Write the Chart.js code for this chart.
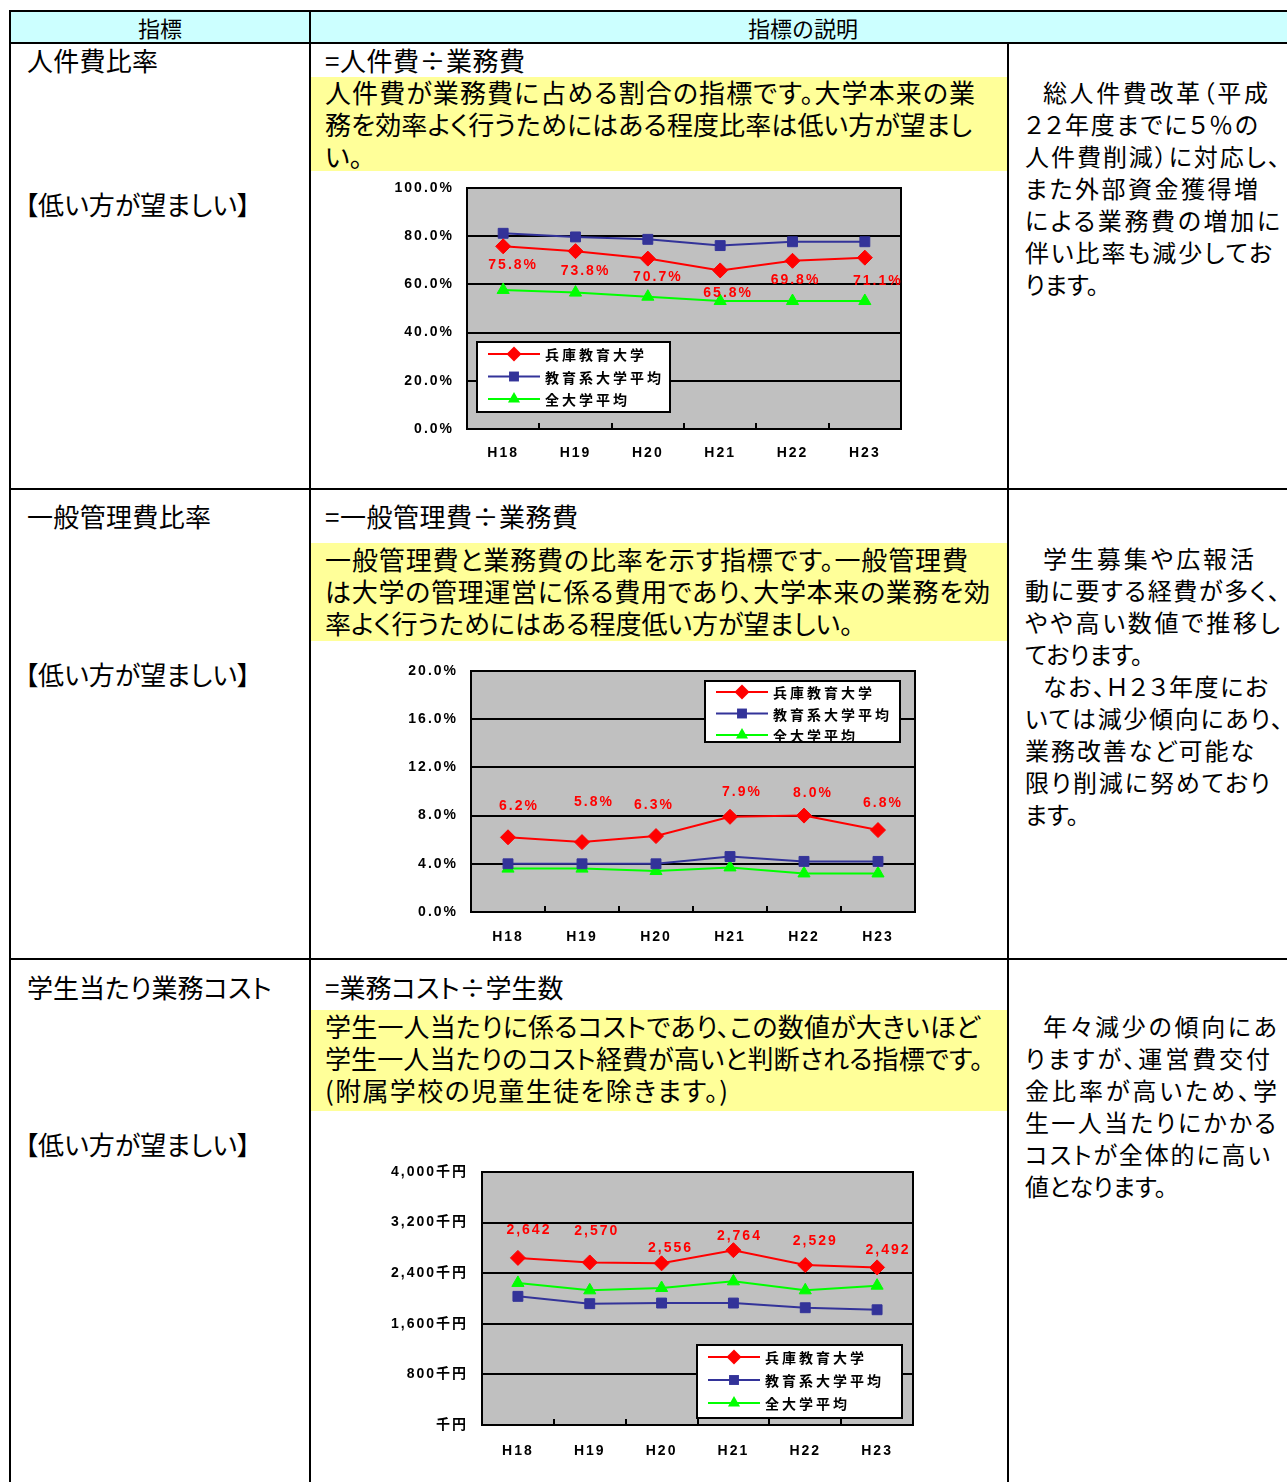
<!DOCTYPE html>
<html lang="ja">
<head>
<meta charset="utf-8">
<title>指標の説明</title>
<script src="https://cdn.jsdelivr.net/npm/chart.js@4.4.1/dist/chart.umd.min.js"></script>
<style>
html,body{margin:0;padding:0;background:#fff;}
body{position:relative;width:1287px;height:1482px;overflow:hidden;font-family:"Noto Sans CJK JP","Noto Sans",sans-serif;color:#000;}
.b{position:absolute;background:#000;}
.t{position:absolute;font-size:26px;line-height:32px;font-feature-settings:"palt";}
.r{font-size:24px;}
.ln{display:block;height:32px;white-space:nowrap;}
.j{text-align:justify;text-align-last:justify;}
.ind{padding-left:18px;}
.yb{position:absolute;left:311px;width:696px;background:#ffff99;}
.hd{position:absolute;top:12px;height:30px;line-height:30px;font-size:22px;text-align:center;}
.cw{position:absolute;}
.cw canvas{display:block;}
</style>
</head>
<body>
<!-- header -->
<div style="position:absolute;left:11px;top:12px;width:1276px;height:30px;background:#ccffff"></div>
<div class="hd" style="left:11px;width:298px">指標</div>
<div class="hd" style="left:311px;width:984px">指標の説明</div>

<!-- grid lines -->
<div class="b" style="left:9px;top:10px;width:1278px;height:2px"></div>
<div class="b" style="left:9px;top:42px;width:1278px;height:2px"></div>
<div class="b" style="left:9px;top:10px;width:2px;height:1472px"></div>
<div class="b" style="left:309px;top:10px;width:2px;height:1472px"></div>
<div class="b" style="left:1007px;top:43px;width:2px;height:1439px"></div>
<div class="b" style="left:9px;top:488px;width:1278px;height:2px"></div>
<div class="b" style="left:9px;top:958px;width:1278px;height:2px"></div>

<!-- row 1 -->
<div class="t" style="left:27px;top:44px"><div class="ln j" style="width:131px">人件費比率</div></div>
<div class="t" style="left:25px;top:188px"><div class="ln j" style="width:225px">【低い方が望ましい】</div></div>
<div class="t" style="left:325px;top:44px"><div class="ln j" style="width:200px">=人件費÷業務費</div></div>
<div class="yb" style="top:77px;height:94px"></div>
<div class="t" style="left:325px;top:76px">
<div class="ln j" style="width:650px">人件費が業務費に占める割合の指標です。大学本来の業</div>
<div class="ln j" style="width:647px">務を効率よく行うためにはある程度比率は低い方が望まし</div>
<div class="ln">い。</div>
</div>
<div class="t r" style="left:1025px;top:76px">
<div class="ln j ind" style="width:225px">総人件費改革（平成</div>
<div class="ln j" style="width:233px">２２年度までに５％の</div>
<div class="ln j" style="width:255px">人件費削減）に対応し、</div>
<div class="ln j" style="width:233px">また外部資金獲得増</div>
<div class="ln j" style="width:255px">による業務費の増加に</div>
<div class="ln j" style="width:247px">伴い比率も減少してお</div>
<div class="ln">ります。</div>
</div>

<!-- row 2 -->
<div class="t" style="left:27px;top:500px"><div class="ln j" style="width:184px">一般管理費比率</div></div>
<div class="t" style="left:25px;top:658px"><div class="ln j" style="width:225px">【低い方が望ましい】</div></div>
<div class="t" style="left:325px;top:500px"><div class="ln j" style="width:253px">=一般管理費÷業務費</div></div>
<div class="yb" style="top:543px;height:98px"></div>
<div class="t" style="left:325px;top:543px">
<div class="ln j" style="width:643px">一般管理費と業務費の比率を示す指標です。一般管理費</div>
<div class="ln j" style="width:665px">は大学の管理運営に係る費用であり、大学本来の業務を効</div>
<div class="ln j" style="width:527px">率よく行うためにはある程度低い方が望ましい。</div>
</div>
<div class="t r" style="left:1025px;top:542px">
<div class="ln j ind" style="width:211px">学生募集や広報活</div>
<div class="ln j" style="width:255px">動に要する経費が多く、</div>
<div class="ln j" style="width:255px">やや高い数値で推移し</div>
<div class="ln">ております。</div>
<div class="ln j ind" style="width:225px">なお、Ｈ２３年度にお</div>
<div class="ln j" style="width:258px">いては減少傾向にあり、</div>
<div class="ln j" style="width:229px">業務改善など可能な</div>
<div class="ln j" style="width:245px">限り削減に努めており</div>
<div class="ln">ます。</div>
</div>

<!-- row 3 -->
<div class="t" style="left:27px;top:971px"><div class="ln j" style="width:238px">学生当たり業務コスト</div></div>
<div class="t" style="left:25px;top:1128px"><div class="ln j" style="width:225px">【低い方が望ましい】</div></div>
<div class="t" style="left:325px;top:971px"><div class="ln j" style="width:235px">=業務コスト÷学生数</div></div>
<div class="yb" style="top:1010px;height:101px"></div>
<div class="t" style="left:325px;top:1010px">
<div class="ln j" style="width:655px">学生一人当たりに係るコストであり、この数値が大きいほど</div>
<div class="ln j" style="width:658px">学生一人当たりのコスト経費が高いと判断される指標です。</div>
<div class="ln j" style="width:403px">(附属学校の児童生徒を除きます。)</div>
</div>
<div class="t r" style="left:1025px;top:1010px">
<div class="ln j ind" style="width:234px">年々減少の傾向にあ</div>
<div class="ln j" style="width:245px">りますが、運営費交付</div>
<div class="ln j" style="width:252px">金比率が高いため、学</div>
<div class="ln j" style="width:251px">生一人当たりにかかる</div>
<div class="ln j" style="width:245px">コストが全体的に高い</div>
<div class="ln">値となります。</div>
</div>

<!-- charts -->
<div class="cw" style="left:380px;top:175px"><canvas id="c1" width="530" height="295"></canvas></div>
<div class="cw" style="left:395px;top:655px"><canvas id="c2" width="530" height="300"></canvas></div>
<div class="cw" style="left:370px;top:1155px"><canvas id="c3" width="555" height="320"></canvas></div>

<script>
// ---------- data ----------
const years = ['H18','H19','H20','H21','H22','H23'];
const seriesNames = ['兵庫教育大学','教育系大学平均','全大学平均'];

const personnelHyogo = [75.8, 73.8, 70.7, 65.8, 69.8, 71.1];
const personnelEdu   = [81.2, 79.7, 78.7, 76.1, 77.7, 77.7];
const personnelAll   = [57.7, 56.6, 54.9, 53.1, 53.1, 53.1];

const adminHyogo = [6.2, 5.8, 6.3, 7.9, 8.0, 6.8];
const adminEdu   = [4.0, 4.0, 4.0, 4.6, 4.2, 4.2];
const adminAll   = [3.6, 3.6, 3.4, 3.7, 3.2, 3.2];

const costHyogo = [2642, 2570, 2556, 2764, 2529, 2492];
const costEdu   = [2034, 1918, 1928, 1928, 1854, 1822];
const costAll   = [2246, 2129, 2166, 2271, 2129, 2203];

// ---------- styles ----------
const seriesColors  = ['#ff0000', '#333399', '#00ff00'];
const seriesMarkers = ['rectRot', 'rect', 'triangle'];
const markerRadius  = [7.5, 7, 7];
const LBL = "'Liberation Sans','Noto Sans CJK JP',sans-serif";
const TICK_FONT = {family: LBL, weight: 'bold', size: 14};

function datasetsFor(series) {
  return series.map((vals, i) => ({
    label: seriesNames[i],
    data: vals,
    borderColor: seriesColors[i],
    backgroundColor: seriesColors[i],
    pointStyle: seriesMarkers[i],
    pointRadius: markerRadius[i],
    pointHoverRadius: markerRadius[i],
    pointBorderWidth: 1,
    borderWidth: 2,
    tension: 0
  }));
}

function drawMarker(ctx, style, x, y, r, color) {
  ctx.save();
  ctx.fillStyle = color;
  ctx.beginPath();
  if (style === 'rectRot') {
    ctx.moveTo(x, y - r); ctx.lineTo(x + r, y); ctx.lineTo(x, y + r); ctx.lineTo(x - r, y);
  } else if (style === 'rect') {
    const s = r * Math.SQRT1_2;
    ctx.rect(x - s, y - s, 2 * s, 2 * s);
  } else {
    ctx.moveTo(x, y - r); ctx.lineTo(x + r * 0.866, y + r * 0.5); ctx.lineTo(x - r * 0.866, y + r * 0.5);
  }
  ctx.closePath();
  ctx.fill();
  ctx.restore();
}

function excelPlugin(cfg) {
  return {
    id: 'excelLook',
    beforeDraw(chart) {
      const {ctx, chartArea: a} = chart;
      ctx.save();
      ctx.fillStyle = '#c0c0c0';
      ctx.fillRect(a.left, a.top, a.right - a.left, a.bottom - a.top);
      ctx.restore();
      ctx.letterSpacing = '2px';
    },
    beforeDatasetsDraw(chart) {
      const {ctx, chartArea: a} = chart;
      const xs = chart.scales.x;
      ctx.save();
      ctx.strokeStyle = '#000';
      ctx.lineWidth = 2;
      ctx.strokeRect(a.left, a.top, a.right - a.left, a.bottom - a.top);
      for (let i = 0; i < years.length - 1; i++) {
        const x = Math.round((xs.getPixelForValue(i) + xs.getPixelForValue(i + 1)) / 2);
        ctx.beginPath();
        ctx.moveTo(x, a.bottom);
        ctx.lineTo(x, a.bottom - 6);
        ctx.stroke();
      }
      ctx.restore();
    },
    afterDatasetsDraw(chart) {
      const ctx = chart.ctx;
      const meta = chart.getDatasetMeta(0);
      const vals = chart.data.datasets[0].data;
      ctx.save();
      ctx.letterSpacing = '2px';
      ctx.font = "bold 14px " + LBL;
      ctx.fillStyle = '#ff0000';
      ctx.textAlign = 'center';
      ctx.textBaseline = 'middle';
      meta.data.forEach((pt, i) => {
        const off = cfg.labelOffsets[i];
        ctx.fillText(cfg.format(vals[i]), pt.x + off[0] + 1, pt.y + off[1]);
      });
      ctx.restore();

      const L = cfg.legend;
      ctx.save();
      ctx.fillStyle = '#fff';
      ctx.fillRect(L.x, L.y, L.w, L.h);
      ctx.strokeStyle = '#000';
      ctx.lineWidth = 2;
      ctx.strokeRect(L.x, L.y, L.w, L.h);
      ctx.font = "bold 14px 'Noto Sans CJK JP', sans-serif";
      ctx.letterSpacing = '3px';
      ctx.textAlign = 'left';
      ctx.textBaseline = 'middle';
      chart.data.datasets.forEach((ds, i) => {
        const y = L.y + L.firstRow + i * L.rowGap;
        const x0 = L.x + 11, x1 = x0 + 52;
        ctx.strokeStyle = ds.borderColor;
        ctx.lineWidth = 2;
        ctx.beginPath(); ctx.moveTo(x0, y); ctx.lineTo(x1, y); ctx.stroke();
        drawMarker(ctx, ds.pointStyle, (x0 + x1) / 2, y, ds.pointRadius, ds.backgroundColor);
        ctx.fillStyle = '#000';
        ctx.fillText(ds.label, L.x + 68, y + 1);
      });
      ctx.restore();
    }
  };
}

function makeChart(id, series, yCfg, layout, plugCfg) {
  return new Chart(document.getElementById(id), {
    type: 'line',
    data: {labels: years, datasets: datasetsFor(series)},
    options: {
      responsive: false,
      animation: false,
      devicePixelRatio: 1,
      layout: {padding: {left: 0, top: layout.top, right: layout.right, bottom: 0}},
      plugins: {legend: {display: false}, tooltip: {enabled: false}},
      scales: {
        x: {
          offset: true,
          grid: {display: false, drawTicks: false},
          border: {display: false},
          ticks: {font: TICK_FONT, color: '#000', padding: layout.xPad, autoSkip: false, maxRotation: 0},
          afterFit(s) { s.height = layout.xHeight; s.paddingLeft = 0; s.paddingRight = 0; }
        },
        y: {
          min: yCfg.min, max: yCfg.max,
          grid: {color: '#000', lineWidth: 2, drawTicks: false},
          border: {display: false},
          ticks: {stepSize: yCfg.step, font: TICK_FONT, color: '#000', padding: layout.yPad, callback: yCfg.fmt},
          afterFit(s) { s.width = layout.yWidth; s.paddingTop = 0; s.paddingBottom = 0; }
        }
      }
    },
    plugins: [excelPlugin(plugCfg)]
  });
}

const pct = v => v.toFixed(1) + '%';
const yen = v => (v === 0 ? '' : v.toLocaleString('en-US')) + '千円';

makeChart('c1', [personnelHyogo, personnelEdu, personnelAll],
  {min: 0, max: 100, step: 20, fmt: pct},
  {top: 13, right: 9, yWidth: 87, xHeight: 41, xPad: 16, yPad: 13},
  {format: pct,
   labelOffsets: [[9,19],[9,20],[9,19],[7,23],[2,19],[12,23]],
   legend: {x: 97, y: 167, w: 193, h: 70, firstRow: 12, rowGap: 22.5}});

makeChart('c2', [adminHyogo, adminEdu, adminAll],
  {min: 0, max: 20, step: 4, fmt: pct},
  {top: 16, right: 10, yWidth: 76, xHeight: 43, xPad: 17, yPad: 13},
  {format: pct,
   labelOffsets: [[10,-31],[11,-40],[-3,-31],[11,-25],[8,-22],[4,-27]],
   legend: {x: 310, y: 26, w: 195, h: 61, firstRow: 11, rowGap: 21.5}});

makeChart('c3', [costHyogo, costEdu, costAll],
  {min: 0, max: 4000, step: 800, fmt: yen},
  {top: 17, right: 12, yWidth: 112, xHeight: 50, xPad: 18, yPad: 14},
  {format: v => v.toLocaleString('en-US'),
   labelOffsets: [[10,-28],[6,-31],[8,-15],[5,-14],[9,-24],[10,-17]],
   legend: {x: 327, y: 190, w: 205, h: 73, firstRow: 12, rowGap: 23}});
</script>
</body>
</html>
